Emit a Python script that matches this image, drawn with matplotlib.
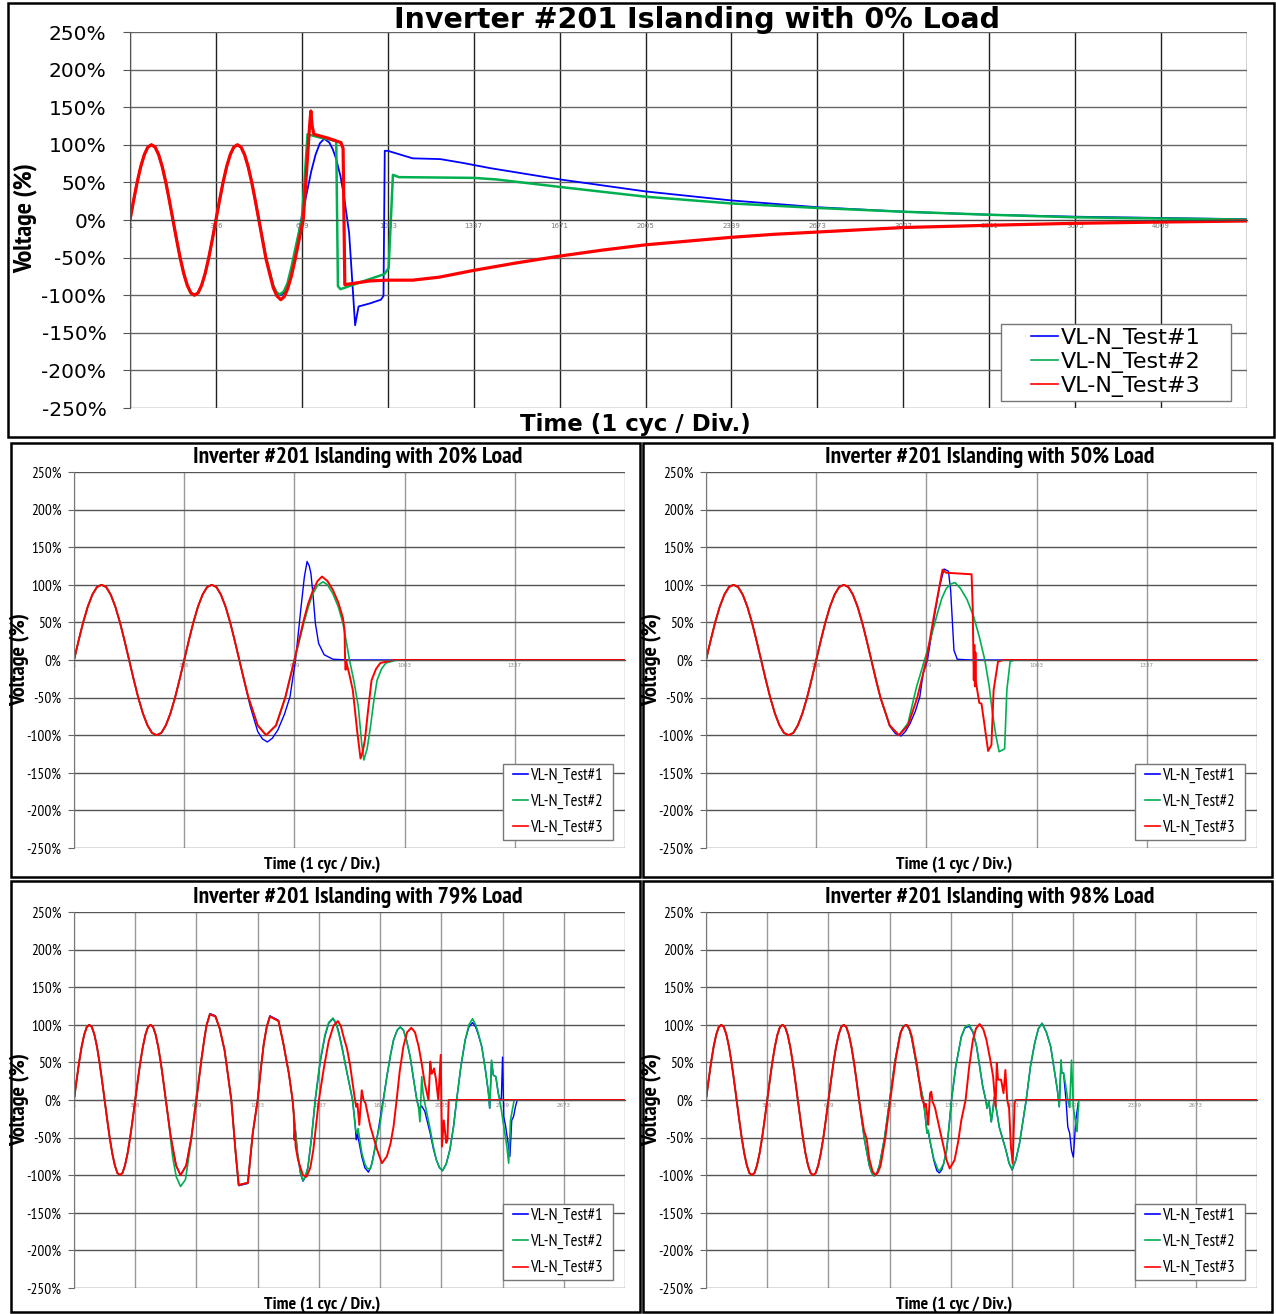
import numpy as np
import matplotlib.pyplot as plt
from matplotlib.patches import Rectangle

# ---------------- data: t in cycles (1 div = 1 cycle), V in % ----------------
sample_labels = ['1', '336', '669', '1003', '1337', '1671', '2005', '2339',
                 '2673', '3007', '3341', '3675', '4009']
test_names = ['VL-N_Test#1', 'VL-N_Test#2', 'VL-N_Test#3']

# grid voltage before islanding (same for all tests)
grid_sine = [(0, 0), (0.042, 26), (0.083, 50), (0.125, 71), (0.167, 87), (0.208, 97),
             (0.25, 100), (0.292, 97), (0.333, 87), (0.375, 71), (0.417, 50), (0.458, 26),
             (0.5, 0), (0.542, -26), (0.583, -50), (0.625, -71), (0.667, -87), (0.708, -97),
             (0.75, -100), (0.792, -97), (0.833, -87), (0.875, -71), (0.917, -50), (0.958, -26),
             (1.0, 0), (1.042, 26), (1.083, 50), (1.125, 71), (1.167, 87), (1.208, 97),
             (1.25, 100), (1.292, 97), (1.333, 87), (1.375, 71), (1.417, 50), (1.458, 26),
             (1.5, 0), (1.542, -26), (1.583, -50), (1.625, -71), (1.667, -87), (1.708, -97),
             (1.75, -100), (1.792, -97), (1.833, -87), (1.875, -71), (1.917, -50), (1.958, -26),
             (2.0, 0), (2.042, 26), (2.083, 50), (2.125, 71), (2.167, 87), (2.208, 97),
             (2.25, 100), (2.292, 97), (2.333, 87), (2.375, 71), (2.417, 50), (2.458, 26),
             (2.5, 0)]

# 0% load
load0_test1 = [(1.583, -50), (1.667, -87), (1.708, -97), (1.75, -100), (1.792, -97),
               (1.833, -87), (1.88, -68), (1.92, -45), (1.96, -20), (2.0, 5),
               (2.05, 32), (2.11, 65), (2.16, 87), (2.21, 102), (2.26, 108), (2.32, 103),
               (2.36, 94), (2.40, 81), (2.45, 58), (2.49, 32), (2.55, -17), (2.62, -140),
               (2.66, -115), (2.79, -111), (2.92, -106), (2.95, -101),
               (2.965, 92), (3.0, 92), (3.29, 82), (3.61, 81), (3.87, 76), (4.19, 69), (5, 54),
               (6, 38), (7, 26), (8, 17), (9, 11), (10, 7), (11, 4.4), (12, 2.7), (13, 1)]
load0_test2 = [(1.583, -50), (1.667, -87), (1.705, -96), (1.743, -99), (1.79, -95),
               (1.833, -84), (1.88, -62), (1.93, -35), (1.97, -14), (2.0, 2),
               (2.03, 50), (2.066, 114), (2.2, 110), (2.40, 105), (2.42, -88), (2.45, -92),
               (2.7, -82), (2.96, -72), (3.01, -64), (3.06, 60), (3.13, 57), (4.0, 56),
               (4.26, 54), (5, 44), (6, 31), (7, 22), (8, 16), (9, 11), (10, 7), (11, 3.6),
               (12, 2), (13, 0.5)]
load0_test3 = [(1.583, -52), (1.667, -90), (1.71, -101), (1.755, -106), (1.795, -102),
               (1.833, -92), (1.875, -76), (1.917, -55), (1.965, -28),
               (2.016, 0), (2.07, 90), (2.09, 125), (2.105, 145), (2.12, 125), (2.14, 114),
               (2.3, 109), (2.455, 103), (2.48, 95), (2.5, -86), (2.79, -81), (3.0, -80),
               (3.29, -80), (3.6, -76), (4, -67), (4.5, -57), (5, -48), (5.5, -40), (6, -33),
               (6.5, -28), (7, -23), (7.5, -19), (8, -16), (8.5, -13), (9, -10), (10, -7),
               (11, -4.4), (12, -2.7), (13, -1.3)]

# 20% load
load20_test1 = [(1.583, -52), (1.60, -62), (1.667, -95), (1.71, -105), (1.755, -109),
                (1.80, -104), (1.85, -93), (1.91, -72), (1.96, -49), (2.01, 0), (2.06, 70),
                (2.09, 110), (2.115, 131), (2.135, 125), (2.15, 115), (2.17, 85), (2.19, 49),
                (2.22, 22), (2.27, 7), (2.35, 1), (2.5, 0), (5, 0)]
load20_test2 = [(1.583, -50), (1.667, -87), (1.744, -100), (1.833, -87), (1.917, -50), (2.0, 0),
                (2.083, 48), (2.125, 70), (2.167, 88), (2.21, 99), (2.26, 104), (2.30, 100),
                (2.35, 88), (2.40, 70), (2.44, 49), (2.47, 25), (2.50, 0), (2.54, -28),
                (2.58, -62), (2.61, -110), (2.63, -133), (2.66, -118), (2.69, -89), (2.72, -55),
                (2.75, -27), (2.79, -12), (2.83, -4), (2.93, 0), (5, 0)]
load20_test3 = [(1.583, -50), (1.667, -87), (1.744, -100), (1.833, -87), (1.917, -50), (2.0, 0),
                (2.083, 52), (2.125, 75), (2.167, 92), (2.21, 105), (2.25, 111), (2.30, 105),
                (2.35, 93), (2.40, 76), (2.44, 56), (2.455, 40), (2.46, 0), (2.465, -13),
                (2.47, 0), (2.475, -5), (2.50, -20), (2.53, -40), (2.57, -95), (2.60, -131),
                (2.62, -122), (2.64, -106), (2.67, -65), (2.70, -27), (2.74, -12), (2.78, -4),
                (2.9, 0), (5, 0)]

# 50% load
load50_test1 = [(1.583, -50), (1.667, -88), (1.72, -98), (1.77, -101), (1.81, -95), (1.85, -85),
                (1.90, -68), (1.94, -49), (1.97, -18), (2.01, 0), (2.08, 65), (2.12, 98),
                (2.16, 121), (2.20, 118), (2.22, 93), (2.25, 13), (2.28, 1), (2.4, 0), (5, 0)]
load50_test2 = [(1.583, -50), (1.667, -87), (1.75, -100), (1.833, -84), (1.91, -36), (2.01, 13),
                (2.10, 62), (2.14, 82), (2.18, 95), (2.22, 101), (2.26, 103), (2.31, 95),
                (2.37, 80), (2.43, 57), (2.48, 31), (2.53, 0), (2.57, -35), (2.60, -71),
                (2.63, -100), (2.66, -122), (2.71, -118), (2.73, -40), (2.76, -2), (2.8, 0), (5, 0)]
load50_test3 = [(1.583, -50), (1.667, -87), (1.75, -100), (1.833, -87), (1.917, -50), (2.0, 0),
                (2.07, 60), (2.146, 120), (2.18, 116), (2.41, 114), (2.42, 71), (2.425, 22),
                (2.43, -27), (2.435, 20), (2.44, -35), (2.445, 10), (2.45, -30), (2.48, -57),
                (2.50, -58), (2.56, -121), (2.59, -113), (2.61, -40), (2.65, -2), (2.7, 0), (5, 0)]

# 79% load
load79_test1 = [(1.583, -50), (1.667, -87), (1.74, -100), (1.833, -87), (1.917, -50), (2.0, 0),
                (2.083, 55), (2.13, 82), (2.167, 100), (2.22, 115), (2.31, 112), (2.38, 95),
                (2.46, 66), (2.57, 0), (2.64, -70), (2.69, -114), (2.84, -111), (2.92, -44),
                (3.0, 0), (3.05, 40), (3.10, 75), (3.15, 98), (3.20, 112), (3.34, 106),
                (3.42, 75), (3.51, 35), (3.57, 0), (3.65, -70), (3.70, -98), (3.74, -108),
                (3.78, -102), (3.82, -90), (3.88, -50), (3.94, 0), (4.02, 50), (4.10, 85),
                (4.16, 102), (4.23, 108), (4.28, 102), (4.32, 92), (4.38, 70), (4.44, 44),
                (4.55, 0), (4.59, -30), (4.61, -53), (4.63, -45), (4.70, -75), (4.75, -90),
                (4.81, -96), (4.86, -86), (4.90, -70), (4.96, -45), (5.05, 0), (5.11, 31),
                (5.17, 60), (5.22, 80), (5.28, 93), (5.33, 97), (5.38, 93), (5.43, 80),
                (5.49, 58), (5.54, 31), (5.60, 0), (5.64, -12), (5.68, -8), (5.73, -15),
                (5.82, -45), (5.87, -65), (5.92, -80), (5.97, -90), (6.02, -94), (6.08, -85),
                (6.14, -66), (6.20, -35), (6.25, 0), (6.32, 45), (6.39, 80), (6.45, 97),
                (6.51, 103), (6.56, 97), (6.60, 88), (6.66, 71), (6.72, 40), (6.77, 9),
                (6.79, -11), (6.82, 50), (6.85, 33), (6.89, 31), (6.93, 9), (6.96, 0),
                (6.98, 2), (7.0, 57), (7.02, -22), (7.05, -35), (7.09, -57), (7.12, -75),
                (7.15, -27), (7.18, -22), (7.21, -9), (7.24, 0)]
load79_test2 = [(1.583, -55), (1.61, -75), (1.67, -102), (1.74, -115), (1.82, -106), (1.90, -62),
                (1.99, 0), (2.083, 55), (2.13, 82), (2.167, 100), (2.22, 114), (2.31, 111),
                (2.38, 95), (2.46, 66), (2.57, 0), (2.64, -70), (2.69, -113), (2.84, -110),
                (2.92, -44), (3.0, 0), (3.05, 40), (3.10, 75), (3.15, 98), (3.20, 111),
                (3.34, 105), (3.42, 75), (3.51, 35), (3.57, 0), (3.65, -70), (3.70, -97),
                (3.74, -107), (3.78, -101), (3.82, -90), (3.88, -50), (3.94, 0), (4.02, 52),
                (4.10, 87), (4.16, 103), (4.23, 109), (4.28, 102), (4.32, 90), (4.38, 68),
                (4.44, 44), (4.55, 0), (4.60, -40), (4.62, -44), (4.64, -38), (4.70, -70),
                (4.75, -85), (4.79, -91), (4.84, -92), (4.88, -80), (4.92, -62), (5.0, -31),
                (5.11, 31), (5.17, 60), (5.22, 80), (5.28, 93), (5.33, 97), (5.38, 93),
                (5.43, 80), (5.49, 58), (5.54, 31), (5.60, 0), (5.63, -11), (5.65, -29),
                (5.68, 31), (5.70, 10), (5.72, 0), (5.82, -40), (5.87, -62), (5.92, -80),
                (5.97, -90), (6.02, -94), (6.08, -85), (6.14, -66), (6.20, -35), (6.25, 0),
                (6.32, 45), (6.39, 80), (6.45, 100), (6.51, 108), (6.56, 100), (6.60, 90),
                (6.66, 71), (6.72, 40), (6.77, 9), (6.79, -11), (6.82, 53), (6.85, 33),
                (6.89, 31), (6.93, 9), (6.98, -13), (7.02, -35), (7.07, -62), (7.10, -84),
                (7.13, -27), (7.16, -13), (7.19, 0)]
load79_test3 = [(1.583, -50), (1.667, -87), (1.74, -100), (1.833, -87), (1.917, -50), (2.0, 0),
                (2.083, 55), (2.13, 82), (2.167, 100), (2.22, 114), (2.31, 111), (2.38, 95),
                (2.46, 66), (2.57, 0), (2.64, -70), (2.69, -113), (2.84, -110), (2.92, -44),
                (3.0, 0), (3.05, 40), (3.10, 75), (3.15, 98), (3.20, 111), (3.34, 105),
                (3.42, 75), (3.51, 35), (3.57, 0),
                (3.59, -20), (3.60, -53), (3.61, -40), (3.62, -62), (3.66, -80), (3.74, -100),
                (3.80, -102), (3.86, -90), (3.91, -66), (4.0, 0), (4.08, 42), (4.16, 78),
                (4.24, 99), (4.31, 105), (4.36, 98), (4.40, 85), (4.46, 68), (4.51, 46),
                (4.59, 0), (4.61, -9), (4.63, -5), (4.66, -33), (4.70, 13), (4.73, 0),
                (4.76, -4), (4.84, -35), (4.95, -66), (5.03, -84), (5.11, -75), (5.17, -58),
                (5.22, -35), (5.27, 0), (5.32, 38), (5.38, 71), (5.44, 90), (5.51, 96),
                (5.57, 90), (5.63, 71), (5.68, 48), (5.73, 22), (5.79, 0), (5.82, 51),
                (5.84, 35), (5.86, 37), (5.88, 42), (5.91, 29), (5.95, 0), (5.99, 60),
                (6.01, -62), (6.04, -27), (6.08, -57), (6.10, -53), (6.12, 0), (9, 0)]

# 98% load
load98_test1 = [(2.583, -50), (2.667, -87), (2.708, -97), (2.75, -101), (2.792, -97),
                (2.833, -87), (2.917, -50), (3.0, 0),
                (3.083, 50), (3.167, 87), (3.22, 98), (3.27, 100), (3.32, 94), (3.36, 82),
                (3.42, 55), (3.47, 31),
                (3.55, 0), (3.58, -20), (3.61, -44), (3.63, -42), (3.65, -51), (3.72, -80),
                (3.77, -94), (3.81, -97), (3.85, -93), (3.88, -85), (3.93, -67), (3.97, -35),
                (4.01, 0), (4.08, 45), (4.17, 84), (4.23, 96), (4.30, 98), (4.36, 90),
                (4.42, 71), (4.52, 18), (4.57, 0), (4.59, -11),
                (4.62, -2), (4.66, -29), (4.69, -10), (4.71, 4), (4.79, -36), (4.90, -67),
                (4.95, -84), (5.0, -93), (5.06, -80), (5.12, -58), (5.23, 0), (5.30, 45),
                (5.37, 76), (5.43, 95), (5.49, 102), (5.56, 90), (5.63, 71), (5.74, 13),
                (5.77, -9), (5.80, 53), (5.81, 36), (5.84, 36), (5.88, 0), (5.91, -36),
                (5.94, -44), (5.97, -67), (6.0, -76), (6.04, -27), (6.08, -4)]
load98_test2 = [(2.583, -50), (2.667, -87), (2.708, -97), (2.75, -101), (2.792, -97),
                (2.833, -87), (2.917, -50), (3.0, 0),
                (3.083, 50), (3.167, 87), (3.22, 98), (3.27, 100), (3.32, 94), (3.36, 82),
                (3.42, 55), (3.47, 31),
                (3.55, 0), (3.58, -20), (3.61, -44), (3.63, -40), (3.65, -51), (3.72, -78),
                (3.79, -93), (3.82, -94), (3.88, -85), (3.93, -67), (3.97, -35), (4.01, 0),
                (4.08, 45), (4.17, 84), (4.23, 97), (4.30, 100), (4.36, 91), (4.42, 71),
                (4.52, 18), (4.57, 0),
                (4.59, -11), (4.62, -2), (4.66, -29), (4.69, -10), (4.71, 4), (4.79, -36),
                (4.90, -67), (4.95, -84), (5.0, -92), (5.06, -80), (5.12, -58), (5.23, 0),
                (5.30, 45), (5.37, 76), (5.43, 95), (5.49, 102), (5.56, 90), (5.63, 71),
                (5.74, 13), (5.77, -9),
                (5.80, 53), (5.81, 36), (5.84, 36), (5.87, 22), (5.91, 0), (5.94, -10),
                (5.97, 53), (6.00, -10), (6.04, -31), (6.06, -42), (6.09, 0)]
load98_test3 = [(2.583, -42), (2.60, -45), (2.61, -48), (2.625, -52), (2.667, -78), (2.72, -95),
                (2.77, -100), (2.81, -96), (2.85, -88), (2.93, -50), (3.01, 0), (3.10, 55),
                (3.18, 90), (3.23, 98), (3.28, 100), (3.32, 95), (3.36, 85), (3.45, 45),
                (3.52, 4), (3.55, -3), (3.57, -9),
                (3.59, -5), (3.61, -18), (3.63, -33), (3.66, 9), (3.68, 11), (3.70, -2),
                (3.74, -10), (3.82, -40), (3.93, -80), (3.98, -91), (4.06, -80), (4.12, -55),
                (4.17, -27), (4.24, 0), (4.30, 45), (4.36, 80), (4.41, 95), (4.47, 101),
                (4.53, 94), (4.58, 80), (4.64, 55), (4.69, 31), (4.73, -9), (4.75, 49),
                (4.77, 27), (4.82, 27),
                (4.86, 9), (4.89, 40), (4.92, 0), (4.95, -10), (4.98, -62), (5.01, -84),
                (5.04, -4), (5.06, 0), (9, 0)]

# ---------------- layout (pixel boxes of the reference) ----------------
W, H = 1276, 1314
fig = plt.figure(figsize=(W / 100, H / 100), dpi=100)
narrow = ['PT Sans Narrow', 'IBM Plex Sans Condensed', 'Archivo Narrow', 'DejaVu Sans']
colors = ['#0000ff', '#00b050', '#ff0000']


def fx(px):
    return px / W


def fy(py):
    return 1 - py / H


def trace(tail):
    head = [p for p in grid_sine if p[0] < tail[0][0]]
    t, v = np.array(head + tail, dtype=float).T
    return t, v


def legend_box(ax, box, l, b, w, h, prop, hl, spacing):
    # box given in pixels of the reference, converted to axes fractions
    x0, y0 = (box[0] - l) / w, (b - box[3]) / h
    x1, y1 = (box[2] - l) / w, (b - box[1]) / h
    ax.add_patch(Rectangle((x0, y0), x1 - x0, y1 - y0, transform=ax.transAxes,
                           facecolor='white', edgecolor='#777777', lw=1.0, zorder=4))
    leg = ax.legend(loc='center', bbox_to_anchor=((x0 + x1) / 2, (y0 + y1) / 2),
                    frameon=False, prop=prop, handlelength=hl, handletextpad=0.15,
                    labelspacing=spacing, borderpad=0, borderaxespad=0)
    leg.set_zorder(6)
    for ln in leg.get_lines():
        ln.set_linewidth(1.2)


def panel(box, ncyc, nlab, tails, big, lbox):
    l, t, r, b = box
    ax = fig.add_axes([fx(l), fy(b), (r - l) / W, (b - t) / H])
    lws = [1.3, 1.8, 2.3] if big else [1.0, 1.2, 1.4]
    for tail, c, lw, name in zip(tails, colors, lws, test_names):
        x, y = trace(tail)
        ax.plot(x, y, color=c, lw=lw, label=name, solid_joinstyle='round')
    ax.set_xlim(0, ncyc)
    ax.set_ylim(-250, 250)
    yt = list(range(-250, 251, 50))
    ax.set_yticks(yt)
    ax.set_xticks(range(ncyc + 1))
    ax.set_xticklabels(sample_labels[:nlab] + [''] * (ncyc + 1 - nlab))
    for s in ['top', 'right']:
        ax.spines[s].set_visible(False)
    ax.spines['bottom'].set_position(('data', 0))
    if big:
        ax.set_yticklabels([f'{v}%' for v in yt], fontsize=14.5, family='DejaVu Sans')
        ax.tick_params(axis='y', length=5, pad=12, color='#555555')
        ax.tick_params(axis='x', length=0, labelsize=5, labelcolor='#777777', pad=2)
        ax.grid(True, axis='y', color='#666666', lw=1.0)
        ax.grid(True, axis='x', color='#222222', lw=1.0)
        ax.spines['bottom'].set_color('#444444')
        ax.spines['left'].set_color('#555555')
        legend_box(ax, lbox, l, b, r - l, b - t,
                   {'family': 'DejaVu Sans', 'size': 16}, 1.2, 0.13)
    else:
        ax.set_yticklabels([f'{v}%' for v in yt], fontsize=11, family=narrow)
        ax.tick_params(axis='y', length=4, pad=5, color='#666666')
        ax.tick_params(axis='x', length=0, labelsize=4, labelcolor='#888888', pad=2)
        ax.grid(True, axis='y', color='#555555', lw=1.0)
        ax.grid(True, axis='x', color='#999999', lw=1.0)
        ax.spines['bottom'].set_color('#555555')
        ax.spines['left'].set_color('#777777')
        legend_box(ax, lbox, l, b, r - l, b - t, {'family': narrow, 'size': 12}, 0.9, 0.62)
    ax.set_axisbelow(True)
    return ax


# outer frames
for (l, t, r, b) in [(8, 3, 1274, 437), (11, 443, 640, 877), (643, 443, 1272, 877),
                     (11, 881, 640, 1312), (643, 881, 1272, 1312)]:
    fig.add_artist(Rectangle((fx(l), fy(b)), (r - l) / W, (b - t) / H,
                             transform=fig.transFigure, fill=False, lw=1.8, ec='black'))

# top chart
panel((130, 32, 1247, 408), 13, 13, [load0_test1, load0_test2, load0_test3], True,
      (1001, 324, 1231, 401))
fig.text(fx(697), fy(28), 'Inverter #201 Islanding with 0% Load', ha='center', va='baseline',
         fontsize=20.5, fontweight='bold', family='DejaVu Sans')
fig.text(fx(635), fy(425), 'Time (1 cyc / Div.)', ha='center', va='center',
         fontsize=16.5, fontweight='bold', family='DejaVu Sans')
fig.text(fx(25), fy(218), 'Voltage (%)', ha='center', va='center', rotation=90,
         fontsize=19, fontweight='bold', family=narrow)

# small charts
small = [((74, 472, 625, 848), 5, 5, [load20_test1, load20_test2, load20_test3], '20%'),
         ((706, 472, 1257, 848), 5, 5, [load50_test1, load50_test2, load50_test3], '50%'),
         ((74, 912, 625, 1288), 9, 9, [load79_test1, load79_test2, load79_test3], '79%'),
         ((706, 912, 1257, 1288), 9, 9, [load98_test1, load98_test2, load98_test3], '98%')]
for box, ncyc, nlab, tails, pct in small:
    l, t, r, b = box
    panel(box, ncyc, nlab, tails, False, (l + 429, b - 84, l + 539, b - 8))
    fig.text(fx(l + 284), fy(t - 14), f'Inverter #201 Islanding with {pct} Load',
             ha='center', va='center', fontsize=17, fontweight='bold', family=narrow)
    fig.text(fx(l + 248), fy(b + 17), 'Time (1 cyc / Div.)', ha='center', va='center',
             fontsize=13, fontweight='bold', family=narrow)
    fig.text(fx(l - 54), fy((t + b) / 2), 'Voltage (%)', ha='center', va='center',
             rotation=90, fontsize=16, fontweight='bold', family=narrow)

fig.savefig('out.png', dpi=100, facecolor='white')
